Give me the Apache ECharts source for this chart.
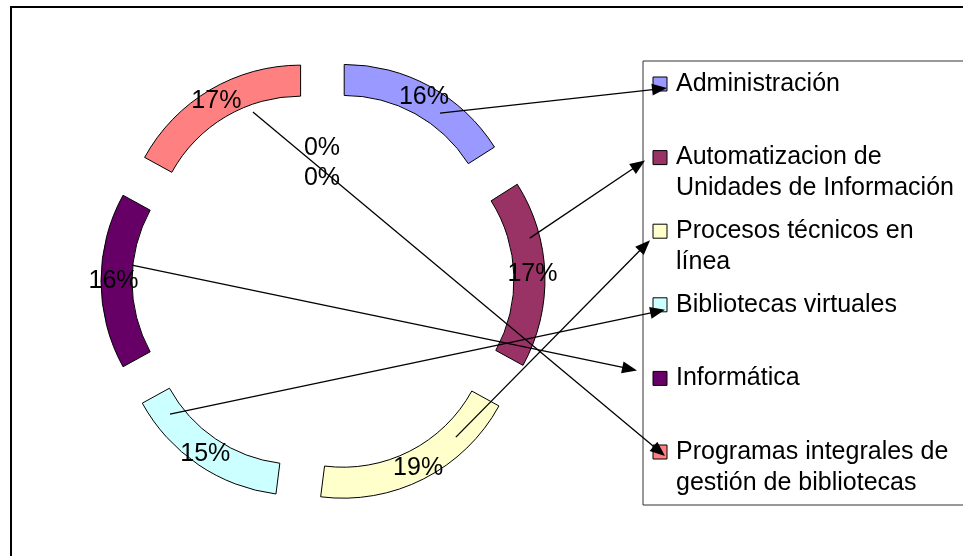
<!DOCTYPE html>
<html><head><meta charset="utf-8">
<script src="https://cdn.jsdelivr.net/npm/echarts@6/dist/echarts.min.js"></script>
<style>html,body{margin:0;padding:0;background:#fff}#c{width:963px;height:556px}</style>
</head><body><div id="c"></div>
<script>
// ---- data ----
const categories = ['Administración', 'Automatizacion de Unidades de Información', 'Procesos técnicos en línea', 'Bibliotecas virtuales', 'Informática', 'Programas integrales de gestión de bibliotecas'];
const legendLabels = ['Administración', 'Automatizacion de\nUnidades de Información', 'Procesos técnicos en\nlínea', 'Bibliotecas virtuales', 'Informática', 'Programas integrales de\ngestión de bibliotecas'];
const values = [16, 17, 19, 15, 16, 17];
const zeroLabels = ['0%', '0%'];
const colors = ['#9999FF', '#993366', '#FFFFCC', '#CCFFFF', '#660066', '#FF8080'];

// ---- layout / style ----
const FONT = "'Liberation Sans', Arial, sans-serif";
const FS = 25;
const CX = 323, CY = 281, R0 = 147, R1 = 178, OFFSET = 44;
const LEG = {x: 643, y: 61, w: 340, h: 444, markerX: 653, marker: 14, textX: 676, first: 23, step: 73.6, lh: 31};
// leader line anchors: [angle offset from slice bisector (deg), distance from exploded centre]
const anchors = [[7.7, 161], [-12.5, 168], [-17, 162.5], [18.8, 160.6], [6.2, 148], [10.6, 139.5]];
// arrow tip offsets relative to legend marker centre
const tips = [[7, 4], [-15, 3], [-10, 9], [5, 5], [-23, -8], [5, 4]];

const chart = echarts.init(document.getElementById('c'), null, {renderer: 'canvas'});

const total = values.reduce((a, b) => a + b, 0);
const graphic = [];
graphic.push({type: 'rect', z: 0, shape: {x: 11, y: 7, width: 980, height: 580}, style: {fill: 'none', stroke: '#000', lineWidth: 2}});
graphic.push({type: 'rect', z: 1, shape: {x: LEG.x, y: LEG.y, width: LEG.w, height: LEG.h}, style: {fill: '#fff', stroke: '#333', lineWidth: 1}});

let cum = 0;
values.forEach((v, i) => {
  const start = cum / total * 360, end = (cum + v) / total * 360;
  cum += v;
  const mid = (start + end) / 2;
  const rad = d => d * Math.PI / 180;
  const ecx = CX + OFFSET * Math.sin(rad(mid)), ecy = CY - OFFSET * Math.cos(rad(mid));
  const a = mid + anchors[i][0], rho = anchors[i][1];
  const sx = ecx + rho * Math.sin(rad(a)), sy = ecy - rho * Math.cos(rad(a));
  const my = LEG.y + LEG.first + i * LEG.step;
  const mcx = LEG.markerX + LEG.marker / 2;
  // legend entry
  graphic.push({type: 'rect', z: 5, shape: {x: LEG.markerX, y: my - LEG.marker / 2, width: LEG.marker, height: LEG.marker}, style: {fill: colors[i], stroke: '#000', lineWidth: 1}});
  graphic.push({type: 'text', z: 5, style: {text: legendLabels[i], x: LEG.textX, y: my - LEG.lh / 2, fill: '#000', font: FS + 'px ' + FONT, lineHeight: LEG.lh, verticalAlign: 'top', align: 'left'}});
  // arrow
  const tx = mcx + tips[i][0], ty = my + tips[i][1];
  const dx = tx - sx, dy = ty - sy, len = Math.hypot(dx, dy);
  const ux = dx / len, uy = dy / len, L = 15, W = 6;
  graphic.push({type: 'line', z: 20, shape: {x1: sx, y1: sy, x2: tx - ux * L * 0.8, y2: ty - uy * L * 0.8}, style: {stroke: '#000', lineWidth: 1.3}});
  graphic.push({type: 'polygon', z: 21, shape: {points: [[tx, ty], [tx - ux * L - uy * W, ty - uy * L + ux * W], [tx - ux * L + uy * W, ty - uy * L - ux * W]]}, style: {fill: '#000'}});
});
zeroLabels.forEach((t, k) => {
  graphic.push({type: 'text', z: 22, style: {text: t, x: CX - 1, y: CY - 133 + k * 30, fill: '#000', font: FS + 'px ' + FONT, align: 'center', verticalAlign: 'middle'}});
});

chart.setOption({
  animation: false,
  backgroundColor: '#fff',
  color: colors,
  series: [{
    type: 'pie',
    z: 2,
    center: [CX, CY],
    radius: [R0, R1],
    startAngle: 90,
    clockwise: true,
    selectedMode: 'multiple',
    selectedOffset: OFFSET,
    avoidLabelOverlap: false,
    percentPrecision: 0,
    itemStyle: {borderColor: '#000', borderWidth: 1},
    label: {show: true, position: 'inside', formatter: '{d}%', color: '#000', fontSize: FS, fontFamily: FONT},
    labelLine: {show: false},
    emphasis: {disabled: true},
    data: categories.map((c, i) => ({name: c, value: values[i], selected: true}))
  }],
  graphic: graphic
});
</script>
</body></html>
